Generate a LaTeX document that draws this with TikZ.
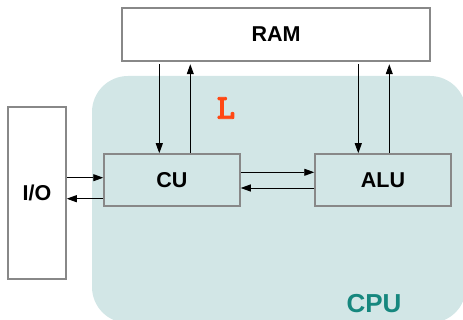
\documentclass[tikz,border=0pt]{standalone}
\usepackage{fontspec}
\setmainfont{Liberation Sans}
\newfontfamily\lmark{lmmonolt10-bold.otf}[FakeBold=2.5]
\usepackage{tikz}
\usetikzlibrary{arrows.meta}
\usepackage{xcolor}
\definecolor{cpubg}{RGB}{210,230,230}
\definecolor{cputxt}{RGB}{22,135,126}
\definecolor{boxline}{RGB}{136,136,136}
\definecolor{lred}{RGB}{255,72,20}

\begin{document}
\begin{tikzpicture}[x=1pt,y=-1pt,
      every node/.style={font=\fontsize{21.5}{24}\selectfont\bfseries},
      unit/.style={draw=boxline,line width=1.5pt,inner sep=0pt},
      inner/.style={unit,fill=cpubg,minimum width=136pt,minimum height=52pt},
      link/.style={-{Triangle[length=10pt,width=7pt]},line width=0.9pt}]
    \useasboundingbox (0,0) rectangle (463,320);
    \clip (0,0) rectangle (463,320);
    \fill[cpubg,rounded corners=36pt] (92,76) rectangle (466,323);
    \node[unit,fill=white,minimum width=308pt,minimum height=53pt] (ram) at (276,34.5) {RAM};
    \node[unit,fill=white,minimum width=58pt,minimum height=172pt] (io) at (37,193) {I/O};
    \node[inner] (cu) at (172,180) {CU};
    \node[inner] (alu) at (383,180) {ALU};
    \node[cputxt,font=\fontsize{26}{30}\selectfont\bfseries] (cpu) at (374,304) {CPU};
    \node[lred,font=\fontsize{35}{38}\lmark] (lbl) at (226,108) {L};
    \foreach \n/\a/\b in {cu/-12.7/18.3,alu/-24.7/6.3} {
      \draw[link,shorten <=2.5pt] ([xshift=\a pt]\n.north |- ram.south) -- ([xshift=\a pt]\n.north);
      \draw[link,shorten >=2.5pt] ([xshift=\b pt]\n.north) -- ([xshift=\b pt]\n.north |- ram.south);
    }
    \draw[link] ([yshift=7.7pt]cu.east) -- ([yshift=7.7pt]cu.east -| alu.west);
    \draw[link] ([yshift=-8pt]alu.west) -- ([yshift=-8pt]alu.west -| cu.east);
    \draw[link] ([yshift=2.3pt]cu.west -| io.east) -- ([yshift=2.3pt]cu.west);
    \draw[link] ([yshift=-18.7pt]cu.west) -- ([yshift=-18.7pt]cu.west -| io.east);
  \end{tikzpicture}
\end{document}
